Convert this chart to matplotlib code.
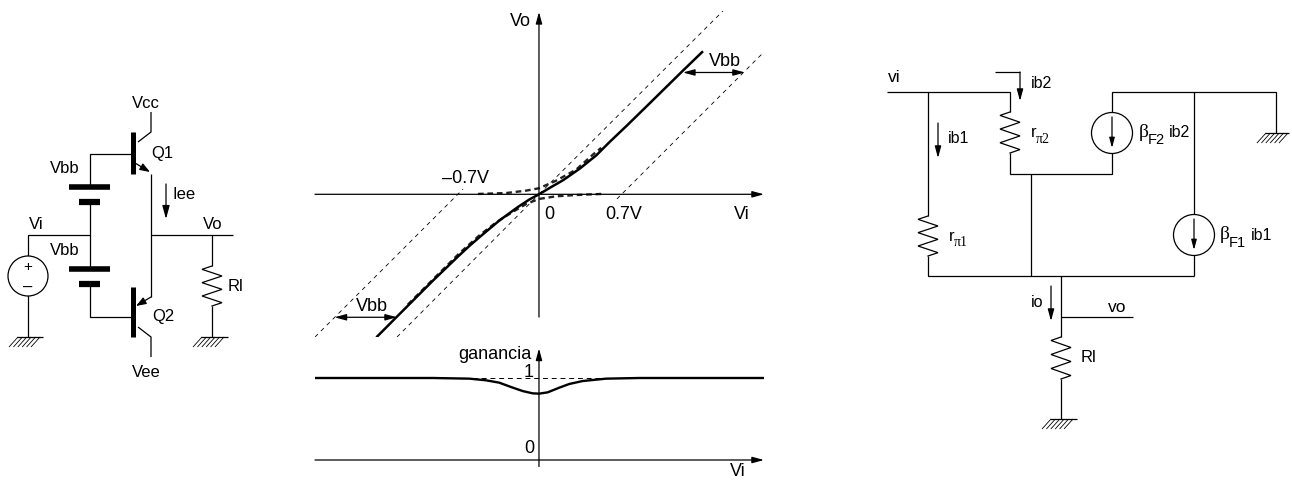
#!/usr/bin/env python3
"""Etapa clase B con Vbb: circuito, transferencia Vo/Vi, ganancia y modelo de pequena senal."""
import matplotlib
matplotlib.use("Agg")
import matplotlib.pyplot as plt
from matplotlib.patches import Circle

W, H = 1292, 481

# transferencia, en voltios
vi_total = [-1.402, -1.230, -0.914, -0.700, -0.600, -0.511, -0.339, -0.181, -0.080, 0.0, 0.106,
            0.207, 0.351, 0.494, 0.609, 0.750, 0.950, 1.241, 1.414]
vo_total = [-1.233, -1.060, -0.744, -0.538, -0.445, -0.368, -0.224, -0.109, -0.043, 0.0, 0.063,
            0.121, 0.221, 0.336, 0.451, 0.585, 0.780, 1.066, 1.233]
vi_q1 = [-0.526, -0.282, -0.109, 0.0, 0.149, 0.322, 0.466, 0.537]
vo_q1 = [0.003, 0.011, 0.032, 0.052, 0.118, 0.214, 0.343, 0.401]
vi_q2 = [0.537, 0.322, 0.149, 0.0, -0.109, -0.224, -0.368, -0.511, -0.684, -0.914, -1.144]
vo_q2 = [0.003, -0.006, -0.017, -0.040, -0.083, -0.150, -0.241, -0.352, -0.506, -0.734, -0.964]

# rectas ideales (trazos finos)
ideal_vi = [[-1.931, -0.655], [-1.224, 0.0], [0.0, 1.586], [0.672, 1.94]]
ideal_vo = [[-1.230, 0.045], [-1.230, 0.0], [0.0, 1.580], [-0.040, 1.227]]

# ganancia
vi_gain = [-1.934, -0.914, -0.600, -0.457, -0.342, -0.241, -0.141, -0.055, 0.0, 0.075, 0.175,
           0.261, 0.376, 0.578, 0.868, 1.94]
gain = [1.0, 1.0, 0.992, 0.972, 0.943, 0.890, 0.841, 0.813, 0.809, 0.825, 0.882,
        0.927, 0.963, 0.992, 1.0, 1.0]

plt.rcParams["font.family"] = ["Liberation Sans", "DejaVu Sans"]
LW = 0.9


def px_axes(fig, x0, y0, x1, y1):
    ax = fig.add_axes([x0 / W, 1 - y1 / H, (x1 - x0) / W, (y1 - y0) / H])
    ax.axis("off")
    ax.patch.set_alpha(0)
    return ax


def arrow(ax, a, b, style="-|>", hl=7, hw=1.9, lw=LW):
    ax.annotate("", xy=b, xytext=a,
                arrowprops=dict(arrowstyle=f"{style},head_length={hl},head_width={hw}",
                                color="black", lw=lw, shrinkA=0, shrinkB=0, mutation_scale=1))


def wire(ax, *pts, lw=LW):
    ax.plot([p[0] for p in pts], [p[1] for p in pts], color="black", lw=lw,
            solid_capstyle="butt", solid_joinstyle="miter")


def resistor(ax, x, y0, y1, amp=10):
    n = 6
    xs, ys = [x], [y0]
    for i in range(n):
        xs.append(x + (amp if i % 2 else -amp))
        ys.append(y0 + (y1 - y0) * (i + 0.5) / n)
    xs.append(x); ys.append(y1)
    ax.plot(xs, ys, color="black", lw=LW, solid_joinstyle="miter")


def ground(ax, x, y, right=15):
    wire(ax, (x - 11, y), (x + right, y))
    hx = x - 10
    while hx <= x + right:
        wire(ax, (hx, y), (hx - 9, y + 10), lw=0.6)
        hx += 4.4


def source(ax, x, y, r=20.5):
    ax.add_patch(Circle((x, y), r, fc="white", ec="black", lw=LW, zorder=3))


def label(ax, x, y, s, size=12, ha="center", **kw):
    ax.text(x, y, s, fontsize=size, ha=ha, va="center", **kw)


fig = plt.figure(figsize=(W / 100, H / 100), dpi=100)
c = px_axes(fig, 0, 0, W, H)
c.set_xlim(0, W); c.set_ylim(H, 0)

# ---------------------------------------------------------------- circuito
wire(c, (151, 113), (151, 133), (138, 143))
wire(c, (133, 155), (90, 155), (90, 188))
wire(c, (90, 203), (90, 270))
wire(c, (90, 285), (90, 318), (133, 318))
wire(c, (28, 338), (28, 236), (90, 236))
wire(c, (151, 175), (151, 298))
wire(c, (151, 236), (233, 236))
wire(c, (138, 328), (151, 338), (151, 358))
wire(c, (212, 236), (212, 267))
resistor(c, 212, 267, 307)
wire(c, (212, 307), (212, 338))
for y0, y1 in [(133, 175), (288, 338)]:
    wire(c, (133, y0), (133, y1), lw=3.6)
for y, x0, x1, lw in [(188, 69, 110, 4), (203, 79, 100, 4.5), (270, 69, 110, 4), (285, 79, 100, 4.5)]:
    wire(c, (x0, y), (x1, y), lw=lw)
arrow(c, (135, 164), (150, 173), hl=6, hw=2.2)
arrow(c, (151, 298), (136, 307), hl=6, hw=2.2)
arrow(c, (166, 185), (166, 220), hl=8, hw=2.2)
source(c, 28, 277, 20)
ground(c, 28, 338)
ground(c, 212, 338, right=16)
label(c, 146, 103, "Vcc")
label(c, 65, 169, "Vbb")
label(c, 65, 251, "Vbb")
label(c, 36, 225, "Vi")
label(c, 213, 225, "Vo")
label(c, 162, 154, "Q1")
label(c, 163, 317, "Q2")
label(c, 146, 373, "Vee")
label(c, 173, 195, "Iee", ha="left")
label(c, 228, 287, "Rl", ha="left")
label(c, 28, 267, "+", size=11, zorder=5)
label(c, 28, 287, "\u2013", size=12, zorder=5)

# ---------------------------------------------------------------- transferencia
X0, X1 = 315, 764
ax = px_axes(fig, X0, 12, X1, 338)
ax.set_xlim(-1.931, 1.94); ax.set_ylim(-1.23, 1.58)
for xs, ys in zip(ideal_vi, ideal_vo):
    ax.plot(xs, ys, color="black", lw=0.6, ls=(0, (5, 5)))
ax.plot(vi_q1, vo_q1, color="#222222", lw=1.7, ls=(0, (2.4, 1.6)))
ax.plot(vi_q2, vo_q2, color="#222222", lw=1.7, ls=(0, (2.4, 1.6)))
ax.plot(vi_total, vo_total, color="black", lw=1.8, solid_capstyle="butt")
arrow(ax, (-1.931, 0.0), (1.94, 0.0))
arrow(ax, (0.0, -1.058), (0.0, 1.572))
arrow(ax, (-1.763, -1.06), (-1.224, -1.06), style="<|-|>")
arrow(ax, (1.241, 1.05), (1.776, 1.05), style="<|-|>")
label(c, 520, 21, "Vo", size=13)
label(c, 742, 215, "Vi", size=13)
label(c, 549, 215, "0", size=13)
label(c, 624, 215, "0.7V", size=13)
label(c, 466, 179, "\u20130.7V", size=13)
label(c, 372, 307, "Vbb", size=13)
label(c, 725, 62, "Vbb", size=13)

# ---------------------------------------------------------------- ganancia
g = px_axes(fig, X0, 347, X1, 470)
g.set_xlim(-1.931, 1.94); g.set_ylim((461 - 470) / 82, (461 - 347) / 82)
g.plot([-1.931, 1.94], [1, 1], color="black", lw=0.7, ls=(0, (5, 4)))
g.plot(vi_gain, gain, color="black", lw=1.7)
arrow(g, (-1.931, 0.0), (1.94, 0.0))
arrow(g, (0.0, -0.08), (0.0, 1.36))
label(c, 495, 355, "ganancia", size=13)
label(c, 529, 373, "1", size=13)
label(c, 529, 449, "0", size=13)
label(c, 738, 472, "Vi", size=13)

# ---------------------------------------------------------------- pequena senal
wire(c, (887, 93), (1010, 93), (1010, 113))
wire(c, (928, 93), (928, 217))
resistor(c, 928, 217, 257)
wire(c, (928, 257), (928, 277), (1194, 277))
resistor(c, 1010, 113, 154)
wire(c, (1010, 154), (1010, 175), (1112, 175), (1112, 93), (1276, 93), (1276, 134))
wire(c, (1031, 175), (1031, 277))
wire(c, (1194, 93), (1194, 277))
wire(c, (1061, 277), (1061, 338))
resistor(c, 1061, 338, 380)
wire(c, (1061, 380), (1061, 420))
wire(c, (1061, 318), (1133, 318))
source(c, 1112, 134)
source(c, 1194, 236)
arrow(c, (1112, 118), (1112, 149), hl=6, hw=1.6)
arrow(c, (1194, 220), (1194, 251), hl=6, hw=1.6)
ground(c, 1276, 134, right=13)
ground(c, 1061, 420, right=16)
wire(c, (995, 73), (1020, 73))
arrow(c, (1020, 73), (1020, 102))
arrow(c, (938, 124), (938, 159))
arrow(c, (1051, 287), (1051, 322))
label(c, 894, 78, "vi", size=12.5)
label(c, 1042, 83, "ib2", size=11.5)
label(c, 959, 139, "ib1", size=11.5)
label(c, 1037, 303, "io", size=11.5)
label(c, 1117, 308, "vo", size=12.5)
label(c, 1089, 358, "Rl", size=12)
label(c, 1031, 133, "r", size=12, ha="left")
label(c, 1036, 140, "\u03c02", size=10, ha="left", family="Liberation Serif")
label(c, 949, 237, "r", size=12, ha="left")
label(c, 954, 243, "\u03c01", size=10, ha="left", family="Liberation Serif")
label(c, 1139, 133, "\u03b2", size=14, ha="left", family="Liberation Serif")
label(c, 1148, 140, "F2", size=10.5, ha="left")
label(c, 1169, 133, "ib2", size=11.5, ha="left")
label(c, 1220, 235, "\u03b2", size=14, ha="left", family="Liberation Serif")
label(c, 1229, 243, "F1", size=10.5, ha="left")
label(c, 1251, 236, "ib1", size=11.5, ha="left")

fig.savefig("out.png", dpi=100)
